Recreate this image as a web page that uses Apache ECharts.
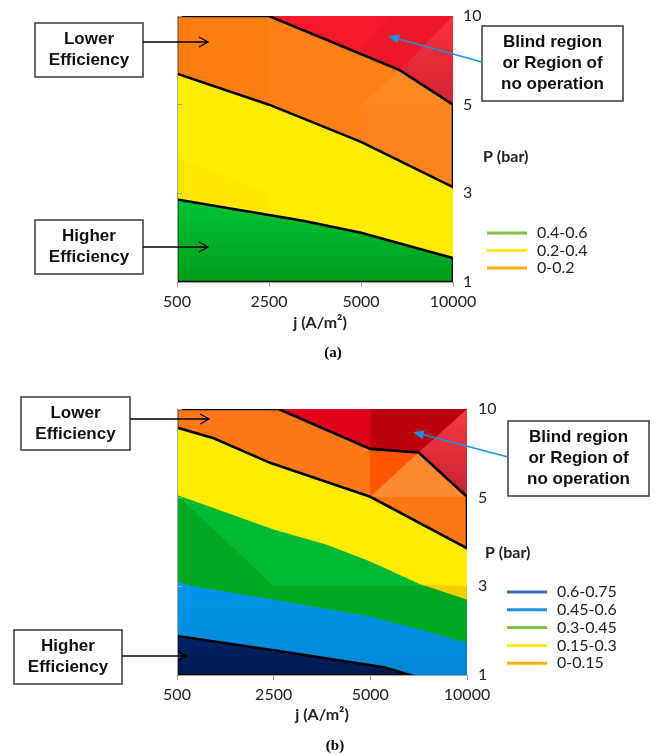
<!DOCTYPE html>
<html><head><meta charset="utf-8">
<script src="https://cdn.jsdelivr.net/npm/echarts@6/dist/echarts.min.js"></script>
<style>html,body{margin:0;padding:0;background:#fff}#c{width:665px;height:755px}</style>
</head><body><div id="c"></div>
<script>
// ---- axis categories (placed at equal steps, as in the original) ----
const jLabels = ['500', '2500', '5000', '10000'];
const pLabels = ['1', '3', '5', '10'];

// ---- panel (a): band boundaries, [j index, P index] ----
const aRedTop = [[1.0, 3], [2.42, 2.39], [3, 2.0]];
const aOrangeYellow = [[0, 2.35], [1, 2.0], [2, 1.58], [3, 1.07]];
const aYellowGreen = [[0, 0.93], [1.37, 0.69], [2, 0.556], [3, 0.27]];
const aLegend = ['0.4-0.6', '0.2-0.4', '0-0.2'];
const aLegendColors = ['#7DC242', '#FFEB1A', '#FFB300'];

// ---- panel (b): band boundaries, [j index, P index] ----
const bRedTop = [[1.05, 3], [2.0, 2.55], [2.5, 2.51], [3, 2.01]];
const bOrangeYellow = [[0, 2.79], [0.38, 2.67], [0.97, 2.39], [2.0, 2.01], [3, 1.43]];
const bYellowGreen = [[0, 2.03], [1.0, 1.64], [1.55, 1.47], [2.0, 1.28], [2.52, 1.02], [3, 0.85]];
const bGreenBlue = [[0, 1.05], [0.17, 1.0], [1.0, 0.85], [2.0, 0.66], [2.52, 0.51], [3, 0.36]];
const bBlueNavy = [[0, 0.44], [1.0, 0.28], [2.14, 0.087], [2.41, 0]];
const bLegend = ['0.6-0.75', '0.45-0.6', '0.3-0.45', '0.15-0.3', '0-0.15'];
const bLegendColors = ['#3A6DB5', '#1E8FE0', '#7DC242', '#FFEB1A', '#FFB300'];

const chart = echarts.init(document.getElementById('c'), null, {renderer: 'canvas'});
const G = echarts.graphic;
const vgrad = (a, b) => new G.LinearGradient(0, 0, 0, 1, [{offset: 0, color: a}, {offset: 1, color: b}]);
const rev = arr => arr.slice().reverse();
const below = (b) => [...b, [3, 0], [0, 0]];
const full = [[0, 0], [3, 0], [3, 3], [0, 3]];

const aShapes = [
  {pts: full, fill: '#F8182A'},
  {pts: [[2.42, 2.39], [3, 3], [3, 2.0]], fill: vgrad('#F8303A', '#D22434')},
  {pts: [[2.42, 2.39], [2.0, 2.62], [2.3, 3], [3, 3]], fill: '#EC172A'},
  {pts: [[0, 3], ...aRedTop, [3, 0], [0, 0]], fill: '#FF8014'},
  {pts: [[0, 3], [1, 3], [1, 2.0], [0, 2.35]], fill: '#FF7E12'},
  {pts: [[2, 2.0], [2.42, 2.39], [3, 2.0]], fill: '#FF8A24'},
  {pts: [[2, 2.0], [3, 2.0], [3, 1.07], [2, 1.58]], fill: '#FF8420'},
  {pts: below(aOrangeYellow), fill: '#FFEC00'},
  {pts: [[0, 1.4], [1, 1.0], [1, 0.8], [0, 0.93]], fill: '#FFE700'},
  {pts: below(aYellowGreen), fill: vgrad('#00C535', '#009C18')},
  {pts: [[0, 3], ...aRedTop, ...rev(aOrangeYellow), [0, 3]], line: true},
  {pts: [...aYellowGreen, [3, 0], [0, 0], aYellowGreen[0]], line: true}
];
const bShapes = [
  {pts: full, fill: '#E2001C'},
  {pts: [[2, 3], [3, 3], [2.5, 2.51], [2, 2.55]], fill: '#BA000A'},
  {pts: [[2.5, 2.51], [3, 3], [3, 2.01]], fill: vgrad('#F43A44', '#CA222F')},
  {pts: [[0, 3], ...bRedTop, [3, 0], [0, 0]], fill: '#FF7818'},
  {pts: [[2, 2.55], [2.5, 2.51], [2, 2.01]], fill: '#FF5500'},
  {pts: [[2.5, 2.51], [2, 2.01], [3, 2.01]], fill: '#FF8A34'},
  {pts: below(bOrangeYellow), fill: '#FFEC00'},
  {pts: [[2.52, 1.02], [3, 1.0], [3, 0.85]], fill: '#F2D000'},
  {pts: below(bYellowGreen), fill: '#00BA36'},
  {pts: [[0, 2.03], [1, 1.0], [2.58, 1.0], [3, 0.85], [3, 0], [0, 0]], fill: '#00A720'},
  {pts: below(bGreenBlue), fill: vgrad('#0096EA', '#0086D6')},
  {pts: [...bBlueNavy, [0, 0]], fill: vgrad('#002468', '#001A50')},
  {pts: [[0, 3], ...bRedTop, ...rev(bOrangeYellow), [0, 3]], line: true},
  {pts: [...bBlueNavy, [0, 0], bBlueNavy[0]], line: true}
];

function shapeSeries(idx, shapes) {
  return {
    type: 'custom', xAxisIndex: idx, yAxisIndex: idx, silent: true, clip: true,
    data: shapes.map((s, i) => [i, 0]),
    renderItem: (params, api) => {
      const s = shapes[params.dataIndex];
      const pts = s.pts.map(p => api.coord(p));
      if (s.line) return {type: 'polyline', z2: 100 + params.dataIndex, shape: {points: pts},
        style: {stroke: '#000', lineWidth: 2.6, fill: null, lineJoin: 'miter'}};
      return {type: 'polygon', z2: params.dataIndex, shape: {points: pts}, style: {fill: s.fill, stroke: null}};
    }
  };
}

const tickFont = {fontFamily: 'Lato', fontSize: 16, color: '#222'};
function xAx(gi) {
  return {gridIndex: gi, type: 'value', min: 0, max: 3, interval: 1,
    axisLine: {show: true, lineStyle: {color: '#A0A0A0', width: 1}},
    axisTick: {show: true, inside: false, length: 5, lineStyle: {color: '#A0A0A0'}},
    axisLabel: Object.assign({margin: 12, formatter: v => jLabels[v] || ''}, tickFont),
    splitLine: {show: false}, z: 5};
}
function yAx(gi, m) {
  return {gridIndex: gi, type: 'value', position: 'right', min: 0, max: 3, interval: 1,
    axisLine: {show: true, lineStyle: {color: '#A8A8A8', width: 1}},
    axisTick: {show: true, inside: false, length: 5, lineStyle: {color: '#A0A0A0'}},
    axisLabel: Object.assign({margin: m, formatter: v => pLabels[v] || ''}, tickFont),
    splitLine: {show: false}, z: 5};
}

const boxFont = 'bold 17px "Liberation Sans", Arial, sans-serif';
function box(x, y, w, h, txt, lh) {
  return {type: 'group', children: [
    {type: 'rect', shape: {x: x, y: y, width: w, height: h}, style: {fill: '#fff', stroke: '#3a3a3a', lineWidth: 1.5}, z: 20},
    {type: 'text', x: x + w / 2, y: y + h / 2, z: 21, style: {text: txt, font: boxFont, fill: '#111',
      align: 'center', verticalAlign: 'middle', lineHeight: lh}}
  ]};
}
function blackArrow(x1, y, x2) {
  return [
    {type: 'line', z: 30, shape: {x1: x1, y1: y, x2: x2, y2: y}, style: {stroke: '#000', lineWidth: 1.3}},
    {type: 'polyline', z: 30, shape: {points: [[x2 - 9, y - 5], [x2, y], [x2 - 9, y + 5]]}, style: {stroke: '#000', lineWidth: 1.3, fill: null}}
  ];
}
function blueArrow(x1, y1, x2, y2) {
  const ang = Math.atan2(y2 - y1, x2 - x1), L = 11, W = 4.5;
  const bx = x2 - L * Math.cos(ang), by = y2 - L * Math.sin(ang);
  const px = -Math.sin(ang) * W, py = Math.cos(ang) * W;
  return [
    {type: 'line', z: 30, shape: {x1: x1, y1: y1, x2: bx, y2: by}, style: {stroke: '#1E8FE0', lineWidth: 1.5}},
    {type: 'polygon', z: 30, shape: {points: [[x2, y2], [bx + px, by + py], [bx - px, by - py]]}, style: {fill: '#1E8FE0'}}
  ];
}
function legend(x, y0, dy, labels, colors) {
  const out = [];
  labels.forEach((t, i) => {
    const y = y0 + i * dy;
    out.push({type: 'line', z: 20, shape: {x1: x, y1: y, x2: x + 40, y2: y}, style: {stroke: colors[i], lineWidth: 3}});
    out.push({type: 'text', z: 20, x: x + 50, y: y, style: {text: t, font: '16px Lato, sans-serif', fill: '#222', verticalAlign: 'middle'}});
  });
  return out;
}
const labFont = 'bold 16px Lato, sans-serif';

const graphics = [
  box(35, 23, 108, 54, 'Lower\nEfficiency', 21),
  box(35, 220, 108, 54, 'Higher\nEfficiency', 21),
  box(482, 26, 141, 75, 'Blind region\nor Region of\nno operation', 21),
  ...blackArrow(143, 42, 208),
  ...blackArrow(143, 247, 208),
  ...blueArrow(482, 62, 388, 36),
  {type: 'text', x: 483, y: 157, style: {text: 'P (bar)', font: labFont, fill: '#222', verticalAlign: 'middle'}},
  {type: 'text', x: 320, y: 323, style: {text: 'j (A/m²)', font: labFont, fill: '#222', align: 'center', verticalAlign: 'middle'}},
  {type: 'text', x: 333, y: 353, style: {text: '(a)', font: 'bold 15px "Liberation Serif", serif', fill: '#000', align: 'center', verticalAlign: 'middle'}},
  ...legend(487, 233, 17.5, aLegend, aLegendColors),

  box(21, 397, 109, 53, 'Lower\nEfficiency', 21),
  box(14, 630, 108, 54, 'Higher\nEfficiency', 21),
  box(508, 421, 141, 75, 'Blind region\nor Region of\nno operation', 21),
  ...blackArrow(130, 419, 209),
  ...blackArrow(122, 656, 187),
  ...blueArrow(508, 457, 413, 432),
  {type: 'text', x: 485, y: 553, style: {text: 'P (bar)', font: labFont, fill: '#222', verticalAlign: 'middle'}},
  {type: 'text', x: 322, y: 715, style: {text: 'j (A/m²)', font: labFont, fill: '#222', align: 'center', verticalAlign: 'middle'}},
  {type: 'text', x: 335, y: 746, style: {text: '(b)', font: 'bold 15px "Liberation Serif", serif', fill: '#000', align: 'center', verticalAlign: 'middle'}},
  ...legend(507, 592, 17.8, bLegend, bLegendColors)
];

chart.setOption({
  animation: false,
  grid: [
    {left: 177, top: 16, width: 276, height: 266},
    {left: 177, top: 409, width: 290, height: 266}
  ],
  xAxis: [xAx(0), xAx(1)],
  yAxis: [yAx(0, 10), yAx(1, 11)],
  series: [shapeSeries(0, aShapes), shapeSeries(1, bShapes)],
  graphic: graphics
});
</script></body></html>
